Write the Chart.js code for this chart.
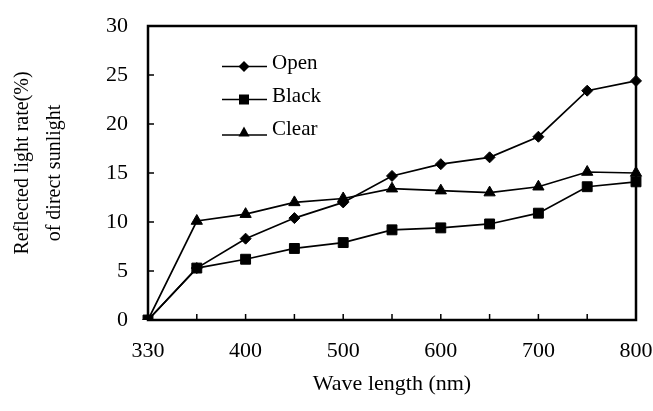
<!DOCTYPE html>
<html>
<head>
<meta charset="utf-8">
<script src="https://cdn.jsdelivr.net/npm/chart.js"></script>
<style>
  html, body { margin: 0; padding: 0; background: #fff; }
  #wrap { position: relative; width: 653px; height: 411px; }
  #legend { position: absolute; left: 222px; top: 46px; font-family: 'Liberation Serif', serif; font-size: 21px; color: #000; }
  #legend div { display: flex; align-items: center; height: 33px; }
  #legend svg { margin-right: 5px; position: relative; top: 4px; }
</style>
</head>
<body>
<div id="wrap">
  <canvas id="chart" width="653" height="411"></canvas>
  <div id="legend"></div>
</div>
<script>
const wavelengths = ['330', '350', '400', '450', '500', '550', '600', '650', '700', '750', '800'];
const openValues  = [0, 5.3, 8.3, 10.4, 12.0, 14.7, 15.9, 16.6, 18.7, 23.4, 24.4];
const blackValues = [0, 5.3, 6.2, 7.3, 7.9, 9.2, 9.4, 9.8, 10.9, 13.6, 14.1];
const clearValues = [0, 10.1, 10.8, 12.0, 12.4, 13.4, 13.2, 13.0, 13.6, 15.1, 15.0];
const seriesNames = ['Open', 'Black', 'Clear'];
// leading spaces nudge the first line up, as in the original
const yTitle = ['    Reflected light rate(%)', 'of direct sunlight'];
const xTitle = 'Wave length (nm)';

const serif = "'Liberation Serif', 'Times New Roman', serif";

function series(label, data, pointStyle, radius) {
  return {
    label: label,
    data: data,
    borderColor: '#000',
    backgroundColor: '#000',
    borderWidth: 1.7,
    pointStyle: pointStyle,
    pointRadius: radius,
    pointHoverRadius: radius,
    pointBorderWidth: 1,
    tension: 0
  };
}

// box round the plot and short inward tick marks
const frame = {
  id: 'frame',
  afterDatasetsDraw(chart) {
    const ctx = chart.ctx;
    const a = chart.chartArea;
    const x = chart.scales.x, y = chart.scales.y;
    ctx.save();
    ctx.strokeStyle = '#000';
    ctx.lineWidth = 1.5;
    ctx.beginPath();
    for (let i = 1; i < x.ticks.length - 1; i++) {
      const px = x.getPixelForTick(i);
      ctx.moveTo(px, a.bottom);
      ctx.lineTo(px, a.bottom - 6);
    }
    for (let i = 1; i < y.ticks.length - 1; i++) {
      const py = y.getPixelForTick(i);
      ctx.moveTo(a.left, py);
      ctx.lineTo(a.left + 6, py);
    }
    ctx.stroke();
    ctx.lineWidth = 2.5;
    ctx.strokeRect(a.left, a.top, a.right - a.left, a.bottom - a.top);
    ctx.restore();
  }
};

const chart = new Chart(document.getElementById('chart'), {
  type: 'line',
  data: {
    labels: wavelengths,
    datasets: [
      series(seriesNames[0], openValues, 'rectRot', 5.5),
      series(seriesNames[1], blackValues, 'rect', 7),
      series(seriesNames[2], clearValues, 'triangle', 6.5)
    ]
  },
  options: {
    responsive: false,
    animation: false,
    layout: { padding: { left: 0, top: 26, right: 17, bottom: 0 } },
    plugins: {
      legend: { display: false },
      tooltip: { enabled: false }
    },
    scales: {
      x: {
        offset: false,
        grid: { display: false, drawTicks: false },
        border: { display: false },
        afterFit(scale) {
          scale.height = 91;
          scale.paddingLeft = 0;
          scale.paddingRight = 0;
        },
        ticks: {
          autoSkip: false,
          maxRotation: 0,
          padding: 18,
          color: '#000',
          font: { family: serif, size: 22 },
          callback(value, index) { return index % 2 === 0 ? this.getLabelForValue(value) : ''; }
        },
        title: {
          display: true,
          text: xTitle,
          color: '#000',
          font: { family: serif, size: 22 },
          padding: { top: 0, bottom: 14 }
        }
      },
      y: {
        min: 0,
        max: 30,
        grid: { display: false, drawTicks: false },
        border: { display: false },
        afterFit(scale) {
          scale.width = 148;
          scale.paddingTop = 0;
          scale.paddingBottom = 0;
        },
        ticks: {
          stepSize: 5,
          padding: 20,
          color: '#000',
          font: { family: serif, size: 22 }
        },
        title: {
          display: true,
          text: yTitle,
          color: '#000',
          font: { family: serif, size: 20, lineHeight: 1.6 },
          padding: { top: 7, bottom: 0 }
        }
      }
    }
  },
  plugins: [frame]
});

// legend inside the plot: line with marker, then name
const markers = [
  '<polygon points="22,1 27.5,6.5 22,12 16.5,6.5" />',
  '<rect x="17" y="1.5" width="10" height="10" />',
  '<polygon points="22,0.5 27.5,10.5 16.5,10.5" />'
];
const legend = document.getElementById('legend');
seriesNames.forEach((name, i) => {
  const row = document.createElement('div');
  row.innerHTML = '<svg width="45" height="13"><line x1="0" y1="' + (i === 2 ? 9 : 6.5) + '" x2="45" y2="' + (i === 2 ? 9 : 6.5) +
    '" stroke="#000" stroke-width="1.5"/><g fill="#000">' + markers[i] + '</g></svg><span>' + name + '</span>';
  legend.appendChild(row);
});
</script>
</body>
</html>
